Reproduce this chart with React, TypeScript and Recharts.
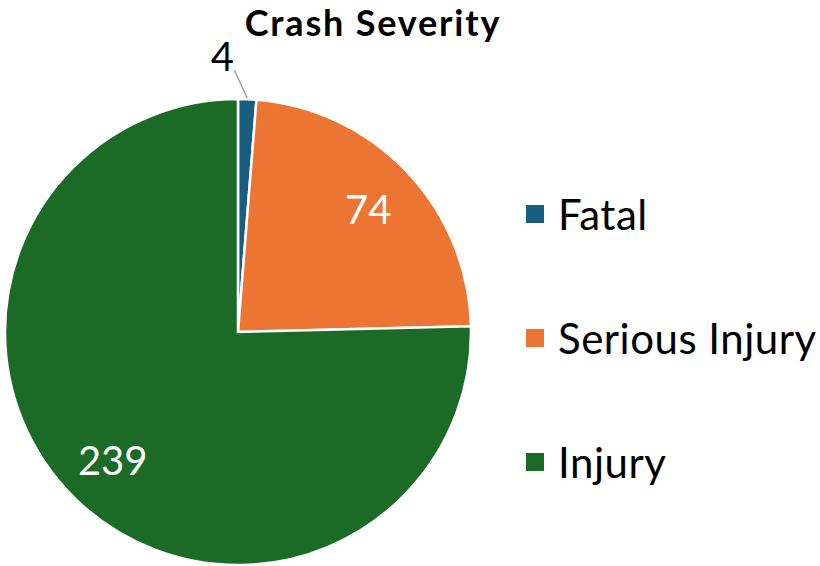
import React from 'react';
import { PieChart, Pie, Cell, Legend } from 'recharts';

const categories = ['Fatal', 'Serious Injury', 'Injury'];
const counts = [4, 74, 239];
const colors = ['#175E80', '#ED7533', '#1B6B26'];

const data = categories.map((name, i) => ({ name, value: counts[i] }));

const FONT = 'Lato, "Open Sans", sans-serif';
const RAD = Math.PI / 180;

function renderLabel(props: any) {
  const { cx, cy, midAngle, outerRadius, value, index } = props;
  const cos = Math.cos(-midAngle * RAD);
  const sin = Math.sin(-midAngle * RAD);
  if (index === 0) {
    // small slice: label sits outside with a leader line
    const sx = cx + (outerRadius + 1) * cos;
    const sy = cy + (outerRadius + 1) * sin;
    const ex = sx - 13;
    const ey = sy - 28;
    return (
      <g>
        <line x1={sx} y1={sy} x2={ex} y2={ey} stroke="#A6A6A6" strokeWidth={1.5} />
        <text x={ex - 12} y={ey - 14} fill="#000" fontSize={40} fontFamily={FONT} textAnchor="middle" dominantBaseline="central">
          {value}
        </text>
      </g>
    );
  }
  const r = outerRadius * 0.77;
  return (
    <text x={cx + r * cos} y={cy + r * sin} fill="#fff" fontSize={40} fontFamily={FONT} textAnchor="middle" dominantBaseline="central">
      {value}
    </text>
  );
}

function LegendContent() {
  return (
    <div style={{ fontFamily: FONT }}>
      {categories.map((c, i) => (
        <div key={c} style={{ display: 'flex', alignItems: 'center', height: 124 }}>
          <div style={{ width: 18, height: 18, background: colors[i], marginRight: 14 }} />
          <span style={{ fontSize: 42, letterSpacing: 0.5, color: '#000' }}>{c}</span>
        </div>
      ))}
    </div>
  );
}

export default function App() {
  return (
    <div style={{ position: 'relative', width: 820, height: 566, background: '#fff' }}>
      <style>{'body{margin:0}'}</style>
      <div
        style={{
          position: 'absolute',
          top: 0,
          left: 0,
          width: 746,
          textAlign: 'center',
          fontFamily: FONT,
          fontWeight: 'bold',
          fontSize: 36,
          letterSpacing: 1.8,
          color: '#000',
          zIndex: 2,
        }}
      >
        Crash Severity
      </div>
      <PieChart width={820} height={566} margin={{ top: 0, right: 0, bottom: 0, left: 0 }}>
        <Pie
          data={data}
          dataKey="value"
          nameKey="name"
          cx={238}
          cy={332}
          outerRadius={233}
          startAngle={90}
          endAngle={-270}
          stroke="#fff"
          strokeWidth={2.5}
          label={renderLabel}
          labelLine={false}
          isAnimationActive={false}
        >
          {data.map((d, i) => (
            <Cell key={d.name} fill={colors[i]} />
          ))}
        </Pie>
        <Legend
          layout="vertical"
          align="right"
          verticalAlign="middle"
          content={<LegendContent />}
          wrapperStyle={{ left: 526, top: 152, width: 294 }}
        />
      </PieChart>
    </div>
  );
}
